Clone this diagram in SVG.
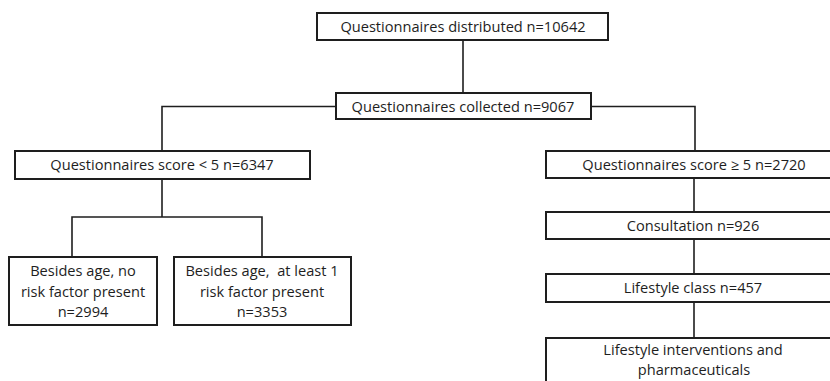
<svg xmlns="http://www.w3.org/2000/svg" width="830" height="381" viewBox="0 0 830 381">
<style>
.box{fill:#fff;stroke:#1e1e1e;stroke-width:2}
.ln{fill:none;stroke:#1e1e1e;stroke-width:1.6}
text{font-family:"Open Sans","Liberation Sans",sans-serif;font-size:14.6px;fill:#1e1e1e;text-anchor:middle}
</style>
<rect width="830" height="381" fill="#fff"/>
<g id="connectors">
<path class="ln" d="M463 40V93"/>
<path class="ln" d="M336 106.5H162V151"/>
<path class="ln" d="M591 106.5H695V151"/>
<path class="ln" d="M162 179V217"/>
<path class="ln" d="M72 257V217H262V257"/>
<path class="ln" d="M694 178V212"/>
<path class="ln" d="M694 239V274"/>
<path class="ln" d="M694 302V338"/>
</g>
<g id="n1"><rect class="box" x="317" y="13" width="291" height="27"/><text x="463" y="32">Questionnaires distributed n=10642</text></g>
<g id="n2"><rect class="box" x="336" y="93" width="255" height="26"/><text x="463" y="112">Questionnaires collected n=9067</text></g>
<g id="n3"><rect class="box" x="15" y="151" width="295" height="28"/><text x="162" y="170">Questionnaires score &lt; 5 n=6347</text></g>
<g id="n4"><rect class="box" x="9" y="257" width="148" height="68"/><text x="83" y="276">Besides age, no</text><text x="83" y="297">risk factor present</text><text x="83" y="317">n=2994</text></g>
<g id="n5"><rect class="box" x="174" y="257" width="177" height="68"/><text x="262" y="276" xml:space="preserve">Besides age,  at least 1</text><text x="262" y="297">risk factor present</text><text x="262" y="317">n=3353</text></g>
<g id="n6"><rect class="box" x="546" y="151" width="300" height="27"/><text x="694" y="170">Questionnaires score ≥ 5 n=2720</text></g>
<g id="n7"><rect class="box" x="546" y="212" width="300" height="27"/><text x="693" y="231">Consultation n=926</text></g>
<g id="n8"><rect class="box" x="546" y="274" width="300" height="28"/><text x="693" y="293">Lifestyle class n=457</text></g>
<g id="n9"><rect class="box" x="546" y="338" width="300" height="60"/><text x="693" y="355">Lifestyle interventions and</text><text x="694" y="375">pharmaceuticals</text></g>
</svg>
